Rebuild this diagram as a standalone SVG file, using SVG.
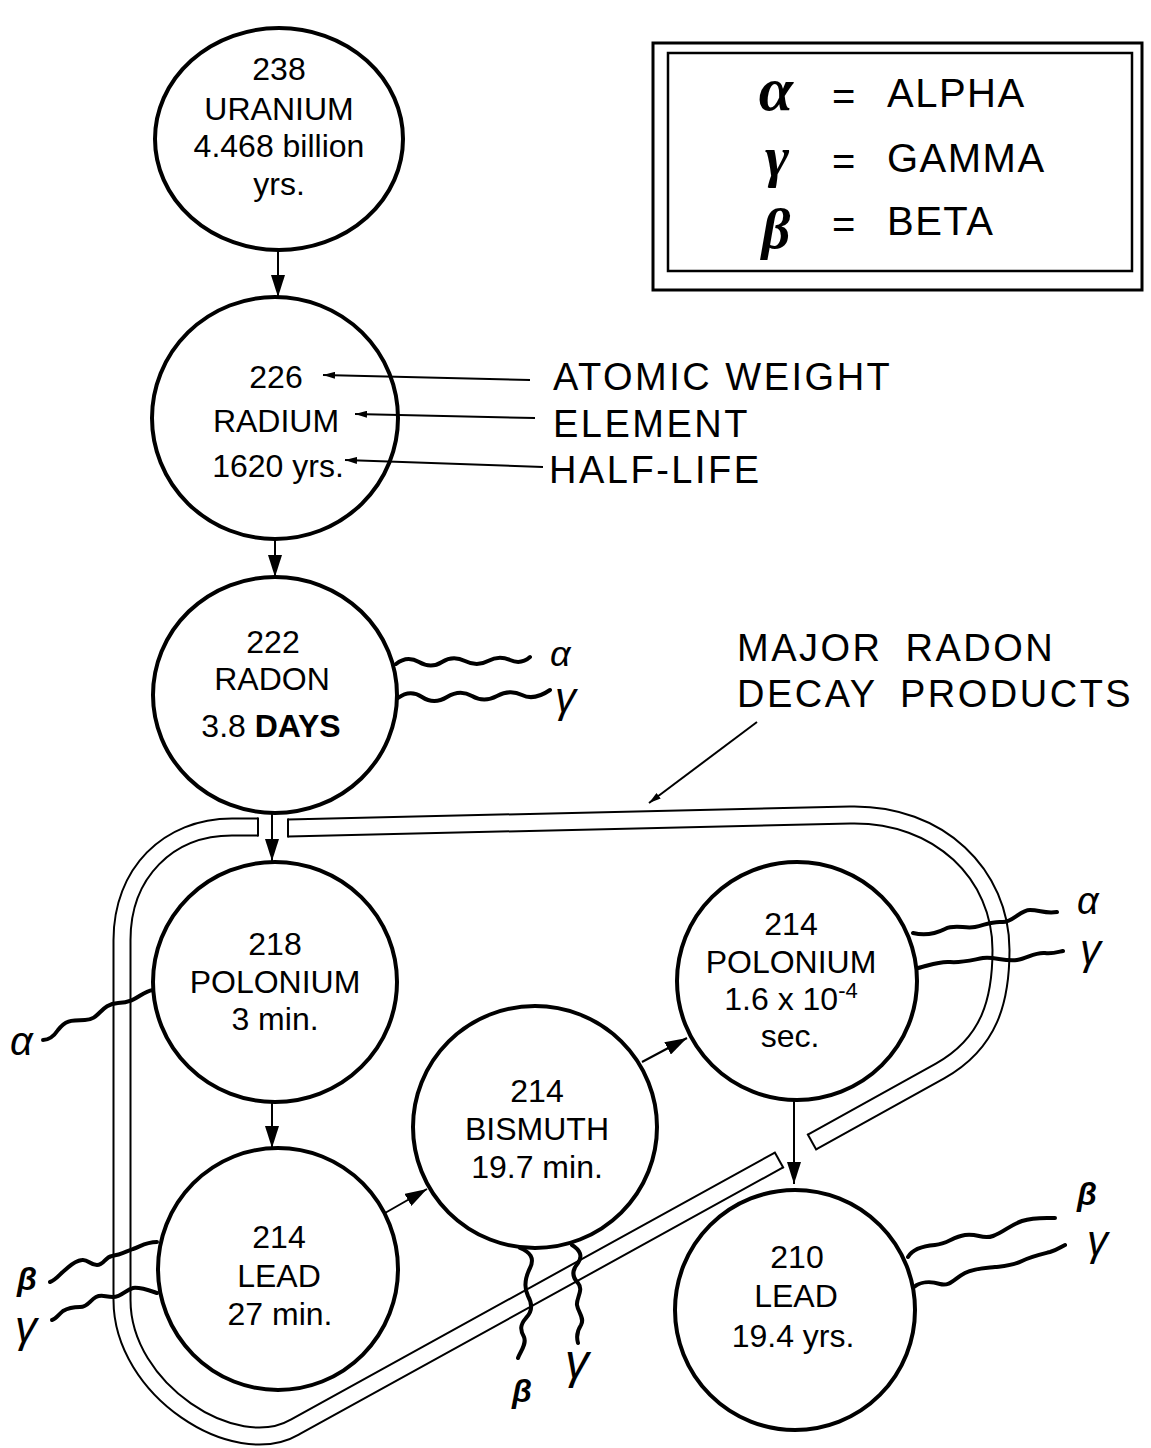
<svg xmlns="http://www.w3.org/2000/svg" width="1151" height="1448" viewBox="0 0 1151 1448">
<style>
.node{fill:#fff;stroke:#000;stroke-width:4}
.t{font-family:"Liberation Sans",Arial,sans-serif;font-size:32px;fill:#000;text-anchor:middle}
.lab{font-family:"Liberation Sans",Arial,sans-serif;font-size:38px;fill:#000;letter-spacing:2.5px}
.leg{font-family:"Liberation Sans",Arial,sans-serif;font-size:40px;fill:#000;letter-spacing:1.5px}
.sym{font-family:"Liberation Serif","DejaVu Serif",serif;font-weight:bold;font-style:italic;fill:#000;text-anchor:middle}
.g{font-family:"Liberation Sans",Arial,sans-serif;font-style:italic;fill:#000}
.arr{fill:none;stroke:#000;stroke-width:2}
.wave{fill:none;stroke:#000;stroke-width:4;stroke-linecap:round}
.bandK{fill:none;stroke:#000;stroke-width:19}
.bandW{fill:none;stroke:#fff;stroke-width:15}
.cap{stroke:#000;stroke-width:2}
</style>
<defs>
<marker id="ah" markerUnits="userSpaceOnUse" markerWidth="22" markerHeight="14" refX="22" refY="7" orient="auto"><path d="M0,0 L22,7 L0,14 z" fill="#000"/></marker>
<marker id="sh" markerUnits="userSpaceOnUse" markerWidth="12" markerHeight="7" refX="12" refY="3.5" orient="auto"><path d="M0,0 L12,3.5 L0,7 z" fill="#000"/></marker>
</defs>
<rect width="1151" height="1448" fill="#fff"/>

<g id="band">
<path class="bandK" d="M258,827 L232,827 C168,827 122,873 122,940 L122,1300 C122,1390 235,1462 295,1427 L779,1160"/>
<path class="bandW" d="M258,827 L232,827 C168,827 122,873 122,940 L122,1300 C122,1390 235,1462 295,1427 L779,1160"/>
<line class="cap" x1="258" y1="817.5" x2="258" y2="836.5"/>
<line class="cap" x1="774.4" y1="1151.7" x2="783.6" y2="1168.3"/>
<path class="bandK" d="M288,828 L850,815 C940,813 1001,875 1001,950 C1001,1000 990,1043 940,1071 L812,1142"/>
<path class="bandW" d="M288,828 L850,815 C940,813 1001,875 1001,950 C1001,1000 990,1043 940,1071 L812,1142"/>
<line class="cap" x1="288" y1="818.5" x2="288" y2="837.5"/>
<line class="cap" x1="807.4" y1="1133.7" x2="816.6" y2="1150.3"/>
</g>

<g id="legend">
<rect x="653" y="43" width="489" height="247" fill="none" stroke="#000" stroke-width="3"/>
<rect x="668" y="53" width="464" height="218" fill="none" stroke="#000" stroke-width="2.5"/>
<text class="sym" x="776" y="110" font-size="62">α</text>
<text class="sym" x="777" y="176" font-size="58">γ</text>
<text class="sym" x="776" y="248" font-size="56">β</text>
<text class="leg" x="832" y="110">=</text>
<text class="leg" x="832" y="175">=</text>
<text class="leg" x="832" y="238">=</text>
<text class="leg" x="887" y="107">ALPHA</text>
<text class="leg" x="887" y="172">GAMMA</text>
<text class="leg" x="887" y="235">BETA</text>
</g>

<g id="n-u238">
<ellipse class="node" cx="279" cy="139" rx="124" ry="111"/>
<text class="t" x="279" y="80">238</text>
<text class="t" x="279" y="120">URANIUM</text>
<text class="t" x="279" y="157">4.468 billion</text>
<text class="t" x="279" y="195">yrs.</text>
</g>
<g id="n-ra226">
<ellipse class="node" cx="275" cy="418" rx="123" ry="121"/>
<text class="t" x="276" y="388">226</text>
<text class="t" x="276" y="432">RADIUM</text>
<text class="t" x="278" y="477">1620 yrs.</text>
</g>
<g id="n-rn222">
<ellipse class="node" cx="275" cy="695" rx="122" ry="118"/>
<text class="t" x="273" y="653">222</text>
<text class="t" x="272" y="690">RADON</text>
<text class="t" x="271" y="737" font-size="36">3.8 <tspan font-weight="bold">DAYS</tspan></text>
</g>
<g id="n-po218">
<ellipse class="node" cx="275" cy="982" rx="122" ry="120"/>
<text class="t" x="275" y="955">218</text>
<text class="t" x="275" y="993">POLONIUM</text>
<text class="t" x="275" y="1030">3 min.</text>
</g>
<g id="n-pb214">
<ellipse class="node" cx="278" cy="1269" rx="120" ry="121"/>
<text class="t" x="279" y="1248">214</text>
<text class="t" x="279" y="1287">LEAD</text>
<text class="t" x="280" y="1325">27 min.</text>
</g>
<g id="n-bi214">
<ellipse class="node" cx="535" cy="1127" rx="122" ry="121"/>
<text class="t" x="537" y="1102">214</text>
<text class="t" x="537" y="1140">BISMUTH</text>
<text class="t" x="537" y="1178">19.7 min.</text>
</g>
<g id="n-po214">
<ellipse class="node" cx="797" cy="981" rx="120" ry="119"/>
<text class="t" x="791" y="935">214</text>
<text class="t" x="791" y="973">POLONIUM</text>
<text class="t" x="791" y="1010">1.6 x 10<tspan font-size="22" dy="-12">-4</tspan></text>
<text class="t" x="790" y="1047">sec.</text>
</g>
<g id="n-pb210">
<ellipse class="node" cx="795" cy="1310" rx="120" ry="120"/>
<text class="t" x="797" y="1268">210</text>
<text class="t" x="796" y="1307">LEAD</text>
<text class="t" x="793" y="1347">19.4 yrs.</text>
</g>

<g id="emissions">
<path class="wave" d="M396,664 Q407,655 419,662 T442,662 T465,661 T488,661 T510,660 T530,657"/>
<path class="wave" d="M398,698 Q410,689 422,697 T447,697 T472,696 T497,696 T522,695 T550,690"/>
<path class="wave" d="M153,990 C140,992 138,1002 118,1003 C100,1004 100,1020 85,1020 C70,1020 65,1021 58,1030 C54,1036 48,1040 43,1040"/>
<path class="wave" d="M157,1242 C145,1242 140,1247 133,1249 C125,1252 120,1255 112,1256 C105,1257 104,1265 97,1265 C90,1265 88,1259 82,1260 C74,1261 70,1266 65,1270 C60,1274 56,1280 50,1282"/>
<path class="wave" d="M157,1293 C148,1290 140,1287 133,1288 C125,1290 122,1297 113,1297 C105,1297 102,1294 96,1297 C90,1300 88,1307 80,1307 C72,1307 68,1308 63,1311 C58,1315 56,1319 52,1320"/>
<path class="wave" d="M520,1248 C530,1252 535,1258 530,1268 C524,1280 524,1288 528,1296 C533,1305 532,1312 526,1318 C520,1325 520,1330 524,1337 C527,1344 520,1352 518,1358"/>
<path class="wave" d="M572,1245 C580,1250 583,1256 578,1263 C572,1270 572,1277 578,1283 C584,1290 576,1298 577,1305 C578,1312 585,1318 581,1325 C577,1331 576,1336 578,1343"/>
<path class="wave" d="M913,933 C925,936 935,934 945,929 C955,924 965,929 975,927 C985,925 992,921 1002,922 C1012,923 1020,910 1030,910 C1040,910 1045,914 1057,912"/>
<path class="wave" d="M918,968 C928,966 938,961 950,962 C962,963 972,960 983,958 C993,956 1005,962 1017,960 C1028,958 1035,952 1045,953 C1052,954 1058,952 1063,951"/>
<path class="wave" d="M908,1257 C912,1250 922,1246 935,1245 C948,1244 952,1237 965,1235 C978,1233 982,1240 993,1236 C1004,1232 1010,1225 1022,1221 C1034,1217 1045,1218 1055,1218"/>
<path class="wave" d="M914,1287 C920,1282 930,1281 940,1284 C950,1287 955,1278 965,1273 C975,1268 985,1268 995,1267 C1005,1266 1012,1266 1022,1261 C1032,1256 1042,1254 1050,1252 C1057,1250 1061,1247 1065,1245"/>
<text class="g" x="550" y="666" font-size="36">α</text>
<text class="g" x="555" y="712" font-size="42">γ</text>
<text class="g" x="10" y="1055" font-size="40">α</text>
<text class="g" x="17" y="1290" font-size="32" font-weight="bold">β</text>
<text class="g" x="15" y="1342" font-size="44">γ</text>
<text class="g" x="512" y="1402" font-size="32" font-weight="bold">β</text>
<text class="g" x="565" y="1378" font-size="48">γ</text>
<text class="g" x="1077" y="914" font-size="38">α</text>
<text class="g" x="1080" y="964" font-size="42">γ</text>
<text class="g" x="1077" y="1205" font-size="32" font-weight="bold">β</text>
<text class="g" x="1087" y="1255" font-size="42">γ</text>
</g>

<g id="connectors">
<line class="arr" x1="278" y1="251" x2="278" y2="297" marker-end="url(#ah)"/>
<line class="arr" x1="275" y1="540" x2="275" y2="577" marker-end="url(#ah)"/>
<line class="arr" x1="272" y1="813" x2="272" y2="861" marker-end="url(#ah)"/>
<line class="arr" x1="272" y1="1103" x2="272" y2="1148" marker-end="url(#ah)"/>
<line class="arr" x1="385" y1="1213" x2="427" y2="1189" marker-end="url(#ah)"/>
<line class="arr" x1="642" y1="1062" x2="687" y2="1038" marker-end="url(#ah)"/>
<line class="arr" x1="794" y1="1100" x2="794" y2="1184" marker-end="url(#ah)"/>
<line class="arr" x1="530" y1="380" x2="323" y2="375" marker-end="url(#sh)"/>
<line class="arr" x1="535" y1="418" x2="355" y2="414" marker-end="url(#sh)"/>
<line class="arr" x1="543" y1="467" x2="345" y2="460" marker-end="url(#sh)"/>
<line class="arr" x1="757" y1="722" x2="649" y2="803" marker-end="url(#sh)"/>
</g>

<g id="labels">
<text class="lab" x="553" y="390">ATOMIC WEIGHT</text>
<text class="lab" x="553" y="437">ELEMENT</text>
<text class="lab" x="549" y="483">HALF-LIFE</text>
<text class="lab" x="737" y="661" font-size="36" letter-spacing="2" word-spacing="10">MAJOR RADON</text>
<text class="lab" x="737" y="707" font-size="36" letter-spacing="2" word-spacing="10">DECAY PRODUCTS</text>
</g>
</svg>
